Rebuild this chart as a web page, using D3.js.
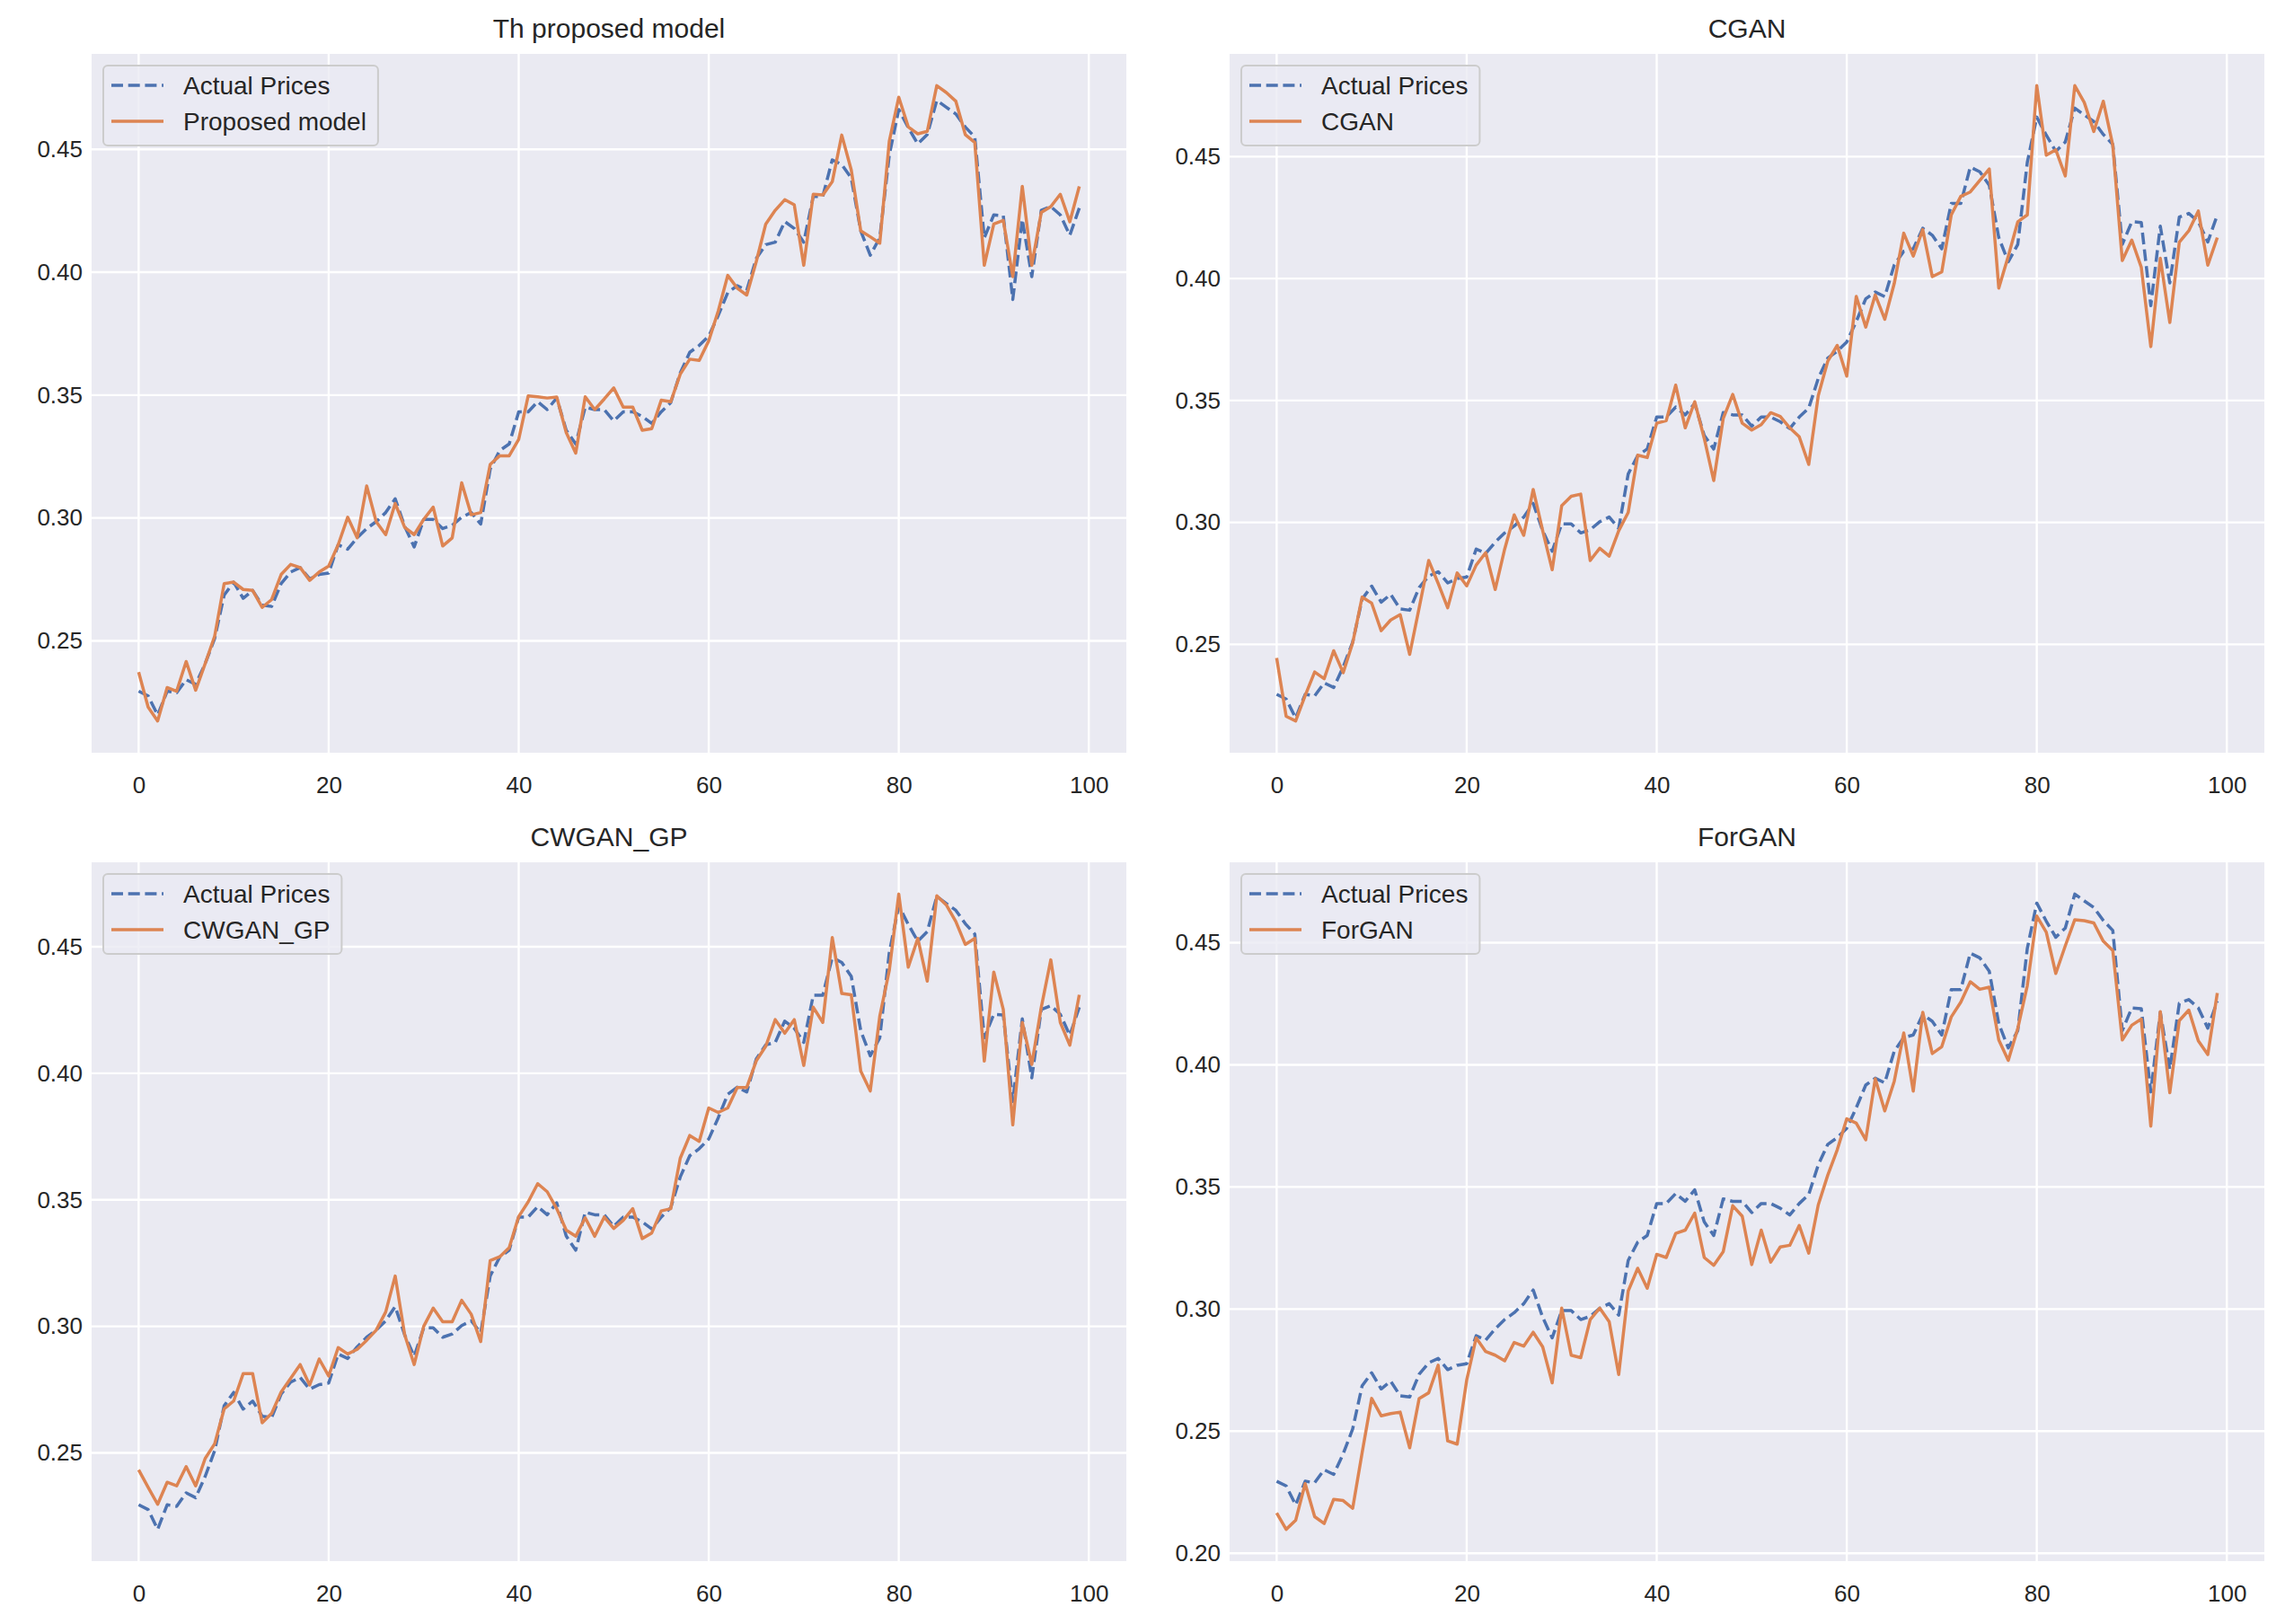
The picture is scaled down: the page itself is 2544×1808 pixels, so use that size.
<!DOCTYPE html>
<html>
<head>
<meta charset="utf-8">
<script src="https://cdn.jsdelivr.net/npm/d3@7"></script>
<style>
  body { margin: 0; background: #fff; }
  text { font-family: "Liberation Sans", Arial, sans-serif; fill: #262626; }
</style>
</head>
<body>
<svg id="chart"></svg>
<script>
// values, index 0..99
const actual = [0.2295,0.2276,0.2198,0.2295,0.2289,0.2342,0.2323,0.2407,0.2509,0.2686,
  0.2739,0.2673,0.2705,0.2645,0.2640,0.2733,0.2780,0.2798,0.2752,0.2770,
  0.2776,0.2891,0.2873,0.2919,0.2957,0.2985,0.3022,0.3078,0.2966,0.2882,
  0.2994,0.2994,0.2957,0.2970,0.3003,0.3022,0.2975,0.3199,0.3274,0.3301,
  0.3432,0.3432,0.3473,0.3441,0.3488,0.3357,0.3301,0.3451,0.3441,0.3441,
  0.3395,0.3432,0.3432,0.3413,0.3385,0.3432,0.3469,0.3590,0.3674,0.3702,
  0.3740,0.3824,0.3917,0.3945,0.3926,0.4056,0.4112,0.4122,0.4206,0.4178,
  0.4122,0.4308,0.4308,0.4457,0.4438,0.4383,0.4168,0.4069,0.4140,0.4476,
  0.4662,0.4588,0.4522,0.4560,0.4699,0.4671,0.4644,0.4591,0.4550,0.4140,
  0.4233,0.4230,0.3889,0.4215,0.3982,0.4252,0.4267,0.4233,0.4150,0.4261];

const proposed = [0.2373,0.2230,0.2174,0.2310,0.2295,0.2416,0.2299,0.2407,0.2519,0.2733,
  0.2739,0.2709,0.2705,0.2636,0.2668,0.2770,0.2811,0.2798,0.2746,0.2780,
  0.2804,0.2891,0.3003,0.2919,0.3130,0.2985,0.2932,0.3059,0.2962,0.2932,
  0.2994,0.3044,0.2886,0.2919,0.3143,0.3013,0.3022,0.3218,0.3253,0.3253,
  0.3320,0.3497,0.3493,0.3488,0.3492,0.3348,0.3264,0.3493,0.3441,0.3484,
  0.3529,0.3451,0.3451,0.3357,0.3363,0.3479,0.3473,0.3585,0.3646,0.3641,
  0.3721,0.3842,0.3987,0.3935,0.3907,0.4043,0.4196,0.4252,0.4295,0.4274,
  0.4028,0.4317,0.4314,0.4368,0.4558,0.4416,0.4168,0.4144,0.4118,0.4532,
  0.4712,0.4591,0.4563,0.4573,0.4759,0.4731,0.4696,0.4560,0.4528,0.4028,
  0.4196,0.4211,0.3982,0.4349,0.4028,0.4243,0.4267,0.4317,0.4205,0.4349];

const cgan = [0.2444,0.2205,0.2186,0.2290,0.2387,0.2359,0.2474,0.2384,0.2506,0.2694,
  0.2669,0.2556,0.2600,0.2622,0.2459,0.2650,0.2844,0.2750,0.2650,0.2793,
  0.2740,0.2825,0.2876,0.2725,0.2891,0.3031,0.2947,0.3135,0.2966,0.2806,
  0.3069,0.3107,0.3116,0.2844,0.2894,0.2862,0.2966,0.3041,0.3276,0.3266,
  0.3407,0.3417,0.3563,0.3388,0.3495,0.3345,0.3172,0.3426,0.3525,0.3407,
  0.3379,0.3401,0.3450,0.3435,0.3388,0.3351,0.3238,0.3520,0.3661,0.3726,
  0.3600,0.3927,0.3801,0.3933,0.3833,0.3980,0.4186,0.4092,0.4201,0.4008,
  0.4027,0.4261,0.4337,0.4355,0.4402,0.4449,0.3961,0.4092,0.4233,0.4261,
  0.4791,0.4506,0.4528,0.4421,0.4791,0.4722,0.4603,0.4727,0.4547,0.4074,
  0.4158,0.4046,0.3721,0.4083,0.3820,0.4149,0.4196,0.4277,0.4055,0.4168];

const cwgan = [0.2433,0.2364,0.2297,0.2384,0.2370,0.2446,0.2370,0.2478,0.2536,0.2674,
  0.2705,0.2813,0.2813,0.2619,0.2656,0.2741,0.2795,0.2849,0.2768,0.2871,
  0.2804,0.2916,0.2891,0.2909,0.2945,0.2985,0.3057,0.3199,0.2967,0.2849,
  0.3000,0.3072,0.3018,0.3018,0.3103,0.3048,0.2940,0.3260,0.3275,0.3311,
  0.3434,0.3492,0.3564,0.3532,0.3465,0.3380,0.3356,0.3429,0.3356,0.3432,
  0.3387,0.3419,0.3465,0.3347,0.3369,0.3456,0.3465,0.3664,0.3754,0.3731,
  0.3863,0.3845,0.3863,0.3944,0.3944,0.4049,0.4107,0.4212,0.4158,0.4212,
  0.4031,0.4261,0.4201,0.4536,0.4315,0.4310,0.4008,0.3930,0.4225,0.4406,
  0.4708,0.4419,0.4533,0.4364,0.4701,0.4665,0.4600,0.4509,0.4533,0.4048,
  0.4400,0.4252,0.3796,0.4201,0.4035,0.4261,0.4448,0.4201,0.4111,0.4310];

const forgan = [0.2165,0.2098,0.2135,0.2285,0.2150,0.2122,0.2221,0.2216,0.2184,0.2413,
  0.2634,0.2563,0.2572,0.2578,0.2432,0.2634,0.2657,0.2770,0.2460,0.2447,
  0.2709,0.2882,0.2826,0.2811,0.2788,0.2863,0.2848,0.2905,0.2845,0.2698,
  0.3004,0.2811,0.2801,0.2957,0.3004,0.2948,0.2732,0.3074,0.3167,0.3085,
  0.3224,0.3211,0.3310,0.3323,0.3393,0.3211,0.3179,0.3235,0.3423,0.3380,
  0.3182,0.3323,0.3192,0.3254,0.3261,0.3342,0.3229,0.3426,0.3548,0.3652,
  0.3779,0.3761,0.3693,0.3943,0.3811,0.3933,0.4130,0.3892,0.4215,0.4046,
  0.4074,0.4196,0.4256,0.4340,0.4309,0.4318,0.4102,0.4018,0.4149,0.4324,
  0.4609,0.4543,0.4374,0.4487,0.4594,0.4590,0.4581,0.4506,0.4468,0.4102,
  0.4162,0.4187,0.3749,0.4218,0.3886,0.4181,0.4224,0.4098,0.4042,0.4294];

const titles = ["Th proposed model", "CGAN", "CWGAN_GP", "ForGAN"];
const modelLabels = ["Proposed model", "CGAN", "CWGAN_GP", "ForGAN"];
const predictions = [proposed, cgan, cwgan, forgan];
const actualLabel = "Actual Prices";
const xTickValues = [0, 20, 40, 60, 80, 100];
const yTickValues = [0.20, 0.25, 0.30, 0.35, 0.40, 0.45];

const W = 2544, H = 1808;
const pw = 1152, ph = 778;
const lefts = [102, 1369], tops = [60, 960];
const blue = "#4C72B0", orange = "#DD8452";

const svg = d3.select("#chart").attr("width", W).attr("height", H);
svg.append("rect").attr("width", W).attr("height", H).attr("fill", "#fff");

predictions.forEach((pred, k) => {
  const ox = lefts[k % 2], oy = tops[Math.floor(k / 2)];
  const g = svg.append("g").attr("transform", `translate(${ox},${oy})`);

  // matplotlib-style 5% margins
  const xs = [0, actual.length - 1];
  const xpad = (xs[1] - xs[0]) * 0.05;
  const x = d3.scaleLinear().domain([xs[0] - xpad, xs[1] + xpad]).range([0, pw]);
  const ext = d3.extent(actual.concat(pred));
  const ypad = (ext[1] - ext[0]) * 0.05;
  const y = d3.scaleLinear().domain([ext[0] - ypad, ext[1] + ypad]).range([ph, 0]);
  const yt = yTickValues.filter(v => v >= y.domain()[0] && v <= y.domain()[1]);

  g.append("rect").attr("width", pw).attr("height", ph).attr("fill", "#EAEAF2");

  g.append("g").selectAll("line.v").data(xTickValues).join("line")
    .attr("x1", d => x(d)).attr("x2", d => x(d)).attr("y1", 0).attr("y2", ph)
    .attr("stroke", "#fff").attr("stroke-width", 2.4);
  g.append("g").selectAll("line.h").data(yt).join("line")
    .attr("x1", 0).attr("x2", pw).attr("y1", d => y(d)).attr("y2", d => y(d))
    .attr("stroke", "#fff").attr("stroke-width", 2.4);

  const xAxis = g.append("g").attr("transform", `translate(0,${ph})`)
    .call(d3.axisBottom(x).tickValues(xTickValues).tickSize(0).tickPadding(27).tickFormat(d3.format("d")));
  const yAxis = g.append("g")
    .call(d3.axisLeft(y).tickValues(yt).tickSize(0).tickPadding(10).tickFormat(d3.format(".2f")));
  [xAxis, yAxis].forEach(a => {
    a.select(".domain").remove();
    a.selectAll("text").attr("font-size", 26).attr("fill", "#262626")
      .style("font-family", '"Liberation Sans", Arial, sans-serif');
  });

  const line = d3.line().x((d, i) => x(i)).y(d => y(d));
  g.append("path").datum(actual).attr("d", line).attr("fill", "none")
    .attr("stroke", blue).attr("stroke-width", 3.5).attr("stroke-dasharray", "13,5.7")
    .attr("stroke-linejoin", "round");
  g.append("path").datum(pred).attr("d", line).attr("fill", "none")
    .attr("stroke", orange).attr("stroke-width", 3.5)
    .attr("stroke-linejoin", "round");

  g.append("text").attr("x", pw / 2).attr("y", -18).attr("text-anchor", "middle")
    .attr("font-size", 30).text(titles[k]);

  // legend
  const lg = g.append("g").attr("transform", "translate(13,13)");
  const box = lg.append("rect").attr("rx", 5).attr("ry", 5)
    .attr("fill", "#EAEAF2").attr("fill-opacity", 0.8)
    .attr("stroke", "#CCCCCC").attr("stroke-width", 2);
  const entries = [[actualLabel, blue, "13,5.7"], [modelLabels[k], orange, null]];
  let maxW = 0;
  entries.forEach((e, j) => {
    const cy = 22 + j * 40;
    lg.append("line").attr("x1", 9).attr("x2", 67).attr("y1", cy).attr("y2", cy)
      .attr("stroke", e[1]).attr("stroke-width", 3.5)
      .attr("stroke-dasharray", e[2]);
    const t = lg.append("text").attr("x", 89).attr("y", cy + 10).attr("font-size", 28).text(e[0]);
    maxW = Math.max(maxW, t.node().getComputedTextLength());
  });
  box.attr("width", 89 + maxW + 13).attr("height", 89);
});
</script>
</body>
</html>
